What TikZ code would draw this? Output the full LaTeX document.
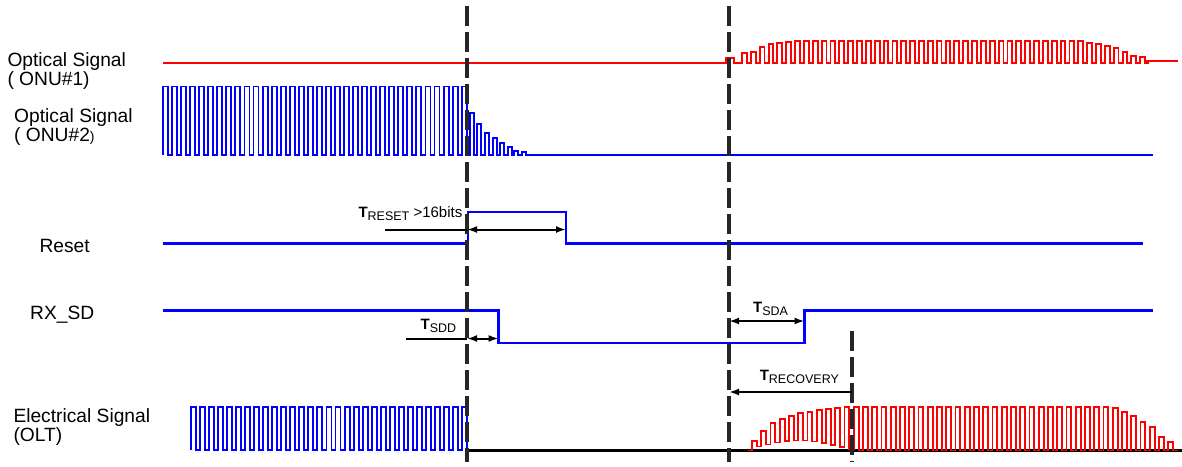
\documentclass[tikz,border=0pt]{standalone}
\usepackage{fontspec}
\setmainfont{Liberation Sans}
\usetikzlibrary{arrows.meta}
\tikzstyle{signame}=[inner sep=0pt,align=left,anchor=base west,font=\fontsize{19.2}{19}\selectfont]
\tikzstyle{timing}=[inner sep=0pt,font=\fontsize{15}{15}\selectfont]
\tikzstyle{sigblue}=[blue,line width=1.9pt,line join=miter]
\tikzstyle{sigred}=[red,line width=1.9pt,line join=miter]
\tikzstyle{marker}=[black!85,line width=3.2pt,dash pattern=on 20pt off 6pt]
\tikzstyle{dim}=[black,line width=2pt,>={Latex[length=10pt,width=7pt]}]
\newcommand{\tsub}[1]{\textbf{T}\raisebox{-3pt}{\fontsize{12.5}{12.5}\selectfont #1}}

\begin{document}
\begin{tikzpicture}[x=1pt,y=-1pt]
\useasboundingbox (0,0) rectangle (1182,466);
\node[signame] at (7.3,85) (onuA) {Optical Signal\\( ONU\#1)};
\node[signame] at (14,141.7) (onuB) {Optical Signal\\( ONU\#2{\fontsize{14}{14}\selectfont)}};
\node[signame] at (39.3,252.3) (rst) {Reset};
\node[signame] at (30,319) (rxsd) {RX\_SD};
\node[signame] at (13.3,441.7) (olt) {Electrical Signal\\(OLT)};
\draw[sigred] (163,63) -- (726,63) -- (726,58.3) -- (734,58.3) -- (734,63) -- (742,63)
  \foreach \t [count=\i from 0] in {53.3,51.7,46.7,44.3,43.3,42.3}
    {-- ({742+8.85*\i},\t) -- ({746.8+8.85*\i},\t) -- ({746.8+8.85*\i},63) -- ({750.85+8.85*\i},63)}
  \foreach \i in {6,...,38}
    {-- ({742+8.85*\i},40.7) -- ({746.8+8.85*\i},40.7) -- ({746.8+8.85*\i},63) -- ({750.85+8.85*\i},63)}
  \foreach \t [count=\i from 39] in {43.3,44.3,46,48.3,51.7,55.7,57.3}
    {-- ({742+8.85*\i},\t) -- ({746.8+8.85*\i},\t) -- ({746.8+8.85*\i},63) -- ({750.85+8.85*\i},63)}
  -- (1146,63) -- (1146,61) -- (1178,61);
\draw[sigblue] (163,155)
  \foreach \i in {0,...,33}
    {-- ({163+9.05*\i},155) -- ({163+9.05*\i},86.5) -- ({168+9.05*\i},86.5) -- ({168+9.05*\i},155)}
  \foreach \x/\t in {470/113.3,477.3/124,485/133,492.7/138,500/143,507.7/147,514.3/151,521.7/152}
    {-- (\x,155) -- (\x,\t) -- ({\x+4},\t) -- ({\x+4},155)}
  -- (1153,155);
\draw[sigblue,line width=2.3pt] (163,243.5) -- (468,243.5) -- (468,212) -- (566,212) -- (566,243.5) -- (1143,243.5);
\draw[sigblue,line width=2.3pt] (163,310.5) -- (498.6,310.5) -- (498.6,343) -- (804.6,343) -- (804.6,310.5) -- (1153,310.5);
\draw[black,line width=2.8pt] (467,450.5) -- (1182,450.5);
\draw[sigblue] (190.7,450)
  \foreach \i in {0,...,30}
    {-- ({190.7+9.05*\i},450) -- ({190.7+9.05*\i},407) -- ({195.7+9.05*\i},407) -- ({195.7+9.05*\i},450)};
\draw[sigred] (748,450.5) -- (752,450.5)
  \foreach \t/\l [count=\i from 0] in {441/446.5,430.7/444.5,423/442.5,419/441,415.7/440.5,413/440.5,411.7/441.5,410/443,408.7/445,408/447,407.3/449}
    {-- ({752+9.25*\i},\t) -- ({756.8+9.25*\i},\t) -- ({756.8+9.25*\i},\l) -- ({761.25+9.25*\i},\l)}
  \foreach \i in {11,...,38}
    {-- ({752+9.25*\i},407) -- ({756.8+9.25*\i},407) -- ({756.8+9.25*\i},450.5) -- ({761.25+9.25*\i},450.5)}
  \foreach \t [count=\i from 39] in {408,412,416,421.7,427,436.7,441.7}
    {-- ({752+9.25*\i},\t) -- ({756.8+9.25*\i},\t) -- ({756.8+9.25*\i},450.5) -- ({761.25+9.25*\i},450.5)};
\coordinate (cutAtop) at (467,6);
\coordinate (cutAbot) at (467,462);
\coordinate (cutBtop) at (729,6);
\coordinate (cutBbot) at (729,462);
\coordinate (cutCtop) at (852,331);
\coordinate (cutCbot) at (852,462);
\draw[marker] (cutAtop) -- (cutAbot);
\draw[marker] (cutBtop) -- (cutBbot);
\draw[marker] (cutCtop) -- (cutCbot);
\coordinate (rstL) at (385,229.5);
\coordinate (rstA) at (467,229.5);
\coordinate (rstB) at (566,229.5);
\coordinate (sddL) at (406,338.5);
\coordinate (sddA) at (467,338.5);
\coordinate (sddB) at (498.6,338.5);
\coordinate (sdaA) at (729,321);
\coordinate (sdaB) at (804.6,321);
\coordinate (recA) at (729,392);
\coordinate (recB) at (852,392);
\draw[dim] (rstL) -- (rstA);
\draw[dim,<->] (rstA) -- (rstB);
\draw[dim] (sddL) -- (sddA);
\draw[dim,<->] (sddA) -- (sddB);
\draw[dim,<->] (sdaA) -- (sdaB);
\draw[dim,<-] (recA) -- (recB);
\node[timing,anchor=base east] at (462.5,217.5) (treset) {\tsub{RESET} >16bits};
\node[timing,anchor=base east] at (456.4,329.3) (tsdd) {\tsub{SDD}};
\node[timing,anchor=base west] at (753,312.7) (tsda) {\tsub{SDA}};
\node[timing,anchor=base west] at (759.6,380) (trec) {\tsub{RECOVERY}};
\end{tikzpicture}
\end{document}
